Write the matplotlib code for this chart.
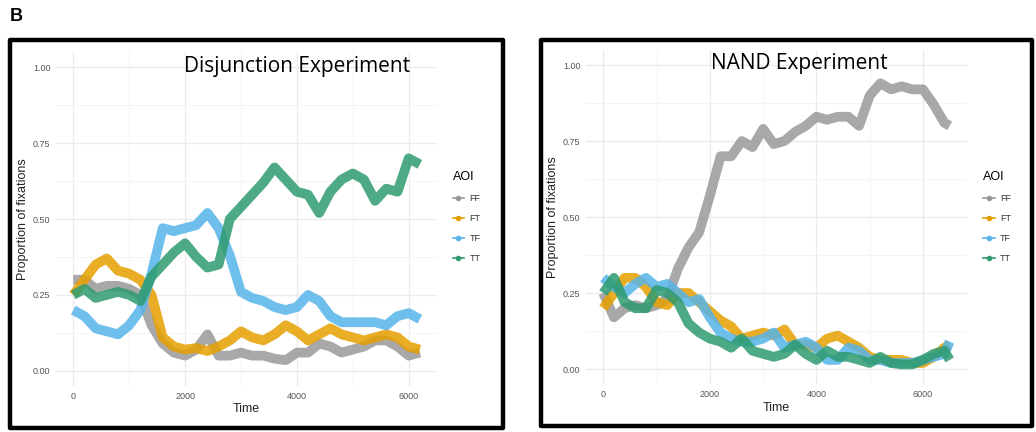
import numpy as np
import matplotlib
matplotlib.use("Agg")
import matplotlib.pyplot as plt
from matplotlib.lines import Line2D
from matplotlib.patches import Rectangle

# AOI series, read at 200 ms steps
aoi = ["FF", "FT", "TF", "TT"]
colors = ["#999999", "#E69F00", "#56B4E9", "#2E9B70"]

time_disj = np.arange(0, 6201, 200)
disj_ff = [0.30, 0.30, 0.27, 0.28, 0.28, 0.27, 0.25, 0.15, 0.09, 0.06, 0.05, 0.07, 0.12, 0.05, 0.05, 0.06,
           0.05, 0.05, 0.04, 0.035, 0.06, 0.06, 0.09, 0.08, 0.06, 0.07, 0.08, 0.10, 0.10, 0.08, 0.05, 0.06]
disj_ft = [0.25, 0.30, 0.35, 0.37, 0.33, 0.32, 0.30, 0.25, 0.11, 0.08, 0.07, 0.075, 0.065, 0.08, 0.10, 0.13,
           0.11, 0.10, 0.12, 0.15, 0.13, 0.10, 0.12, 0.14, 0.12, 0.11, 0.10, 0.11, 0.12, 0.11, 0.08, 0.07]
disj_tf = [0.20, 0.18, 0.14, 0.13, 0.12, 0.15, 0.20, 0.32, 0.47, 0.46, 0.47, 0.48, 0.52, 0.47, 0.38, 0.26,
           0.24, 0.23, 0.21, 0.20, 0.21, 0.25, 0.23, 0.18, 0.16, 0.16, 0.16, 0.16, 0.15, 0.18, 0.19, 0.17]
disj_tt = [0.25, 0.27, 0.24, 0.25, 0.26, 0.25, 0.23, 0.31, 0.35, 0.39, 0.42, 0.375, 0.34, 0.35, 0.50, 0.54,
           0.58, 0.62, 0.67, 0.63, 0.59, 0.58, 0.52, 0.59, 0.63, 0.65, 0.63, 0.56, 0.60, 0.59, 0.70, 0.68]

time_nand = np.append(np.arange(0, 6401, 200), 6500)
nand_ff = [0.25, 0.17, 0.20, 0.21, 0.20, 0.21, 0.23, 0.33, 0.40, 0.45, 0.57, 0.70, 0.70, 0.75, 0.73, 0.79, 0.74,
           0.75, 0.78, 0.80, 0.83, 0.82, 0.83, 0.83, 0.80, 0.90, 0.94, 0.92, 0.93, 0.92, 0.92, 0.87, 0.81, 0.80]
nand_ft = [0.20, 0.25, 0.30, 0.30, 0.27, 0.22, 0.21, 0.25, 0.25, 0.22, 0.19, 0.16, 0.14, 0.10, 0.11, 0.12, 0.11,
           0.13, 0.08, 0.08, 0.07, 0.10, 0.11, 0.09, 0.07, 0.04, 0.03, 0.03, 0.03, 0.02, 0.02, 0.04, 0.07, 0.08]
nand_tf = [0.30, 0.27, 0.25, 0.28, 0.30, 0.27, 0.28, 0.25, 0.22, 0.23, 0.17, 0.12, 0.10, 0.09, 0.09, 0.10, 0.12,
           0.07, 0.08, 0.09, 0.07, 0.03, 0.03, 0.07, 0.06, 0.03, 0.03, 0.02, 0.02, 0.02, 0.03, 0.04, 0.05, 0.09]
nand_tt = [0.25, 0.30, 0.22, 0.20, 0.20, 0.26, 0.25, 0.22, 0.15, 0.12, 0.10, 0.09, 0.07, 0.10, 0.06, 0.05, 0.04,
           0.05, 0.08, 0.05, 0.03, 0.06, 0.04, 0.04, 0.03, 0.02, 0.04, 0.02, 0.015, 0.015, 0.03, 0.05, 0.06, 0.03]


def draw_panel(fig, rect, time, series, title, title_pos, legend_pos):
    ax = fig.add_axes(rect)
    for vals, col in zip(series, colors):
        ax.plot(time, vals, color=col, lw=7, alpha=0.85, solid_capstyle="butt",
                solid_joinstyle="round")
    span = time[-1] - time[0]
    ax.set_xlim(-0.05 * span, time[-1] + 0.05 * span)
    ax.set_ylim(-0.05, 1.05)
    ax.set_xticks([0, 2000, 4000, 6000])
    ax.set_xticks([1000, 3000, 5000], minor=True)
    ax.set_yticks([0, 0.25, 0.5, 0.75, 1.0])
    ax.set_yticklabels(["0.00", "0.25", "0.50", "0.75", "1.00"])
    ax.set_yticks([0.125, 0.375, 0.625, 0.875], minor=True)
    ax.grid(which="major", color="#ebebeb", lw=1.0)
    ax.grid(which="minor", color="#f2f2f2", lw=0.6)
    ax.set_axisbelow(True)
    for s in ax.spines.values():
        s.set_visible(False)
    ax.tick_params(which="both", length=0, labelsize=6.5, labelcolor="#555555", pad=4)
    ax.set_xlabel("Time", fontsize=9, color="#222222", labelpad=2)
    ax.set_ylabel("Proportion of fixations", fontsize=9, color="#222222", labelpad=3)

    fig.text(title_pos[0], title_pos[1], title, fontsize=15, family="Open Sans",
             ha="center", va="center", color="black")

    handles = [Line2D([0], [0], color=c, lw=1.2, marker="o", markersize=3) for c in colors]
    leg = fig.legend(handles, aoi, title="AOI", loc="upper left", bbox_to_anchor=legend_pos,
                     frameon=False, fontsize=6.5, title_fontsize=9, handlelength=1.3,
                     handletextpad=0.6, labelspacing=1.2, alignment="left")
    for t in leg.get_texts():
        t.set_color("#333333")
    return ax


fig = plt.figure(figsize=(10.36, 4.32), dpi=100)
plt.rcParams["font.family"] = ["Liberation Sans", "DejaVu Sans"]

draw_panel(fig, [0.054, 0.1065, 0.368, 0.773], time_disj,
           [disj_ff, disj_ft, disj_tf, disj_tt], "Disjunction Experiment",
           (0.2867, 0.845), (0.429, 0.622))
draw_panel(fig, [0.5656, 0.1106, 0.3678, 0.774], time_nand,
           [nand_ff, nand_ft, nand_tf, nand_tt], "NAND Experiment",
           (0.772, 0.853), (0.941, 0.622))

# black frames around each panel
fig.patches.append(Rectangle((10 / 1036, 1 - 428 / 432), 493 / 1036, 388 / 432,
                             transform=fig.transFigure, fill=False, lw=3.2, ec="black",
                             joinstyle="round"))
fig.patches.append(Rectangle((541 / 1036, 1 - 426 / 432), 491 / 1036, 386 / 432,
                             transform=fig.transFigure, fill=False, lw=3.2, ec="black",
                             joinstyle="round"))

fig.text(0.009, 0.962, "B", fontsize=13, fontweight="bold", ha="left", va="center")

fig.savefig("out.png", dpi=100)
